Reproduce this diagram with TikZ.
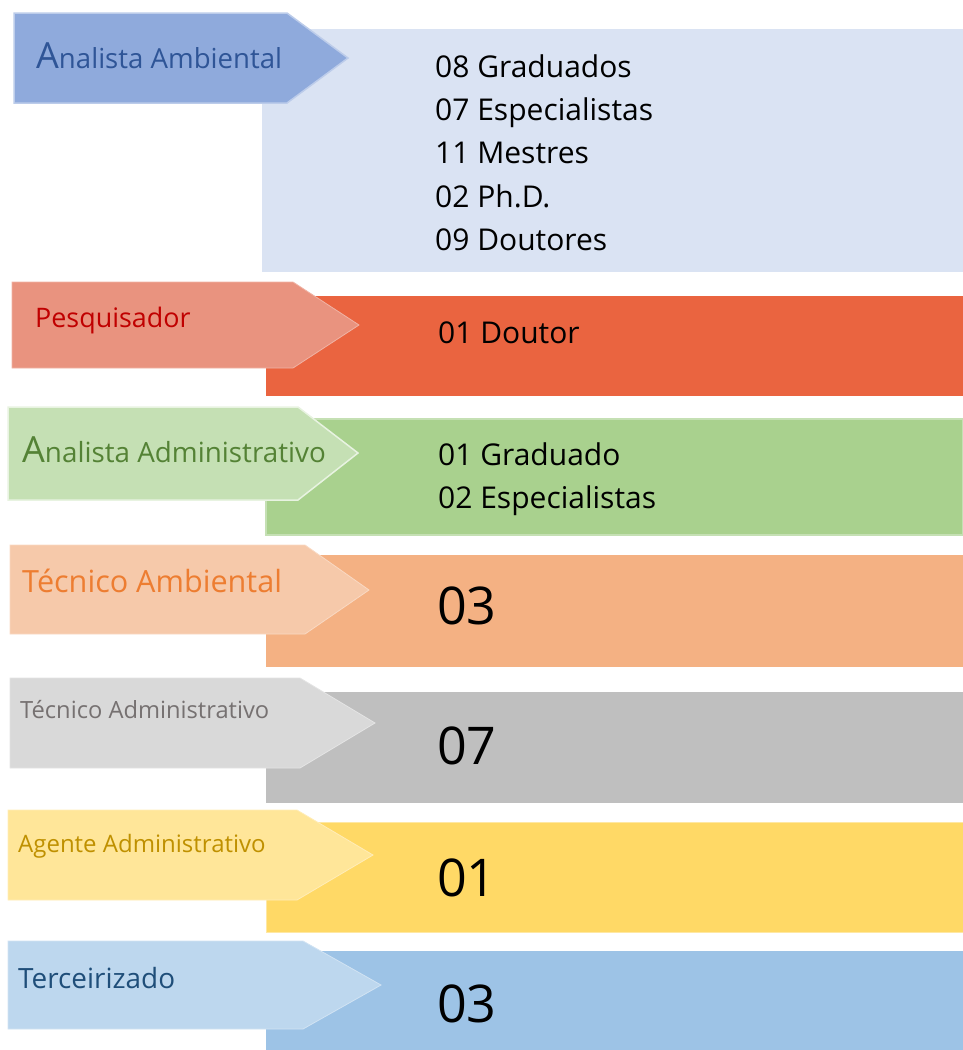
\documentclass[tikz,border=0pt]{standalone}
\usepackage{fontspec}
\setmainfont{Open Sans}
\usepackage{xcolor}

% fills for the seven rows: label arrow / value box / label text
\definecolor{azulA}{HTML}{8FAADC}
\definecolor{azulB}{HTML}{DAE3F3}
\definecolor{azulT}{HTML}{2F5597}
\definecolor{vermA}{HTML}{E9937F}
\definecolor{vermB}{HTML}{EA6440}
\definecolor{vermT}{HTML}{C00000}
\definecolor{verdeA}{HTML}{C5E0B4}
\definecolor{verdeB}{HTML}{A9D18E}
\definecolor{verdeT}{HTML}{548235}
\definecolor{larA}{HTML}{F6C9AA}
\definecolor{larB}{HTML}{F4B183}
\definecolor{larT}{HTML}{ED7D31}
\definecolor{cinzaA}{HTML}{D9D9D9}
\definecolor{cinzaB}{HTML}{BFBFBF}
\definecolor{cinzaT}{HTML}{767171}
\definecolor{amarA}{HTML}{FFE699}
\definecolor{amarB}{HTML}{FFD966}
\definecolor{amarT}{HTML}{BF9000}
\definecolor{celA}{HTML}{BDD7EE}
\definecolor{celB}{HTML}{9DC3E6}
\definecolor{celT}{HTML}{1F4E79}

\begin{document}
\begin{tikzpicture}[x=1pt,y=-1pt,
		rotulo/.style={anchor=base west,inner sep=0pt},
		linha/.style={anchor=base west,inner sep=0pt,font=\fontsize{30}{36}\selectfont},
		numero/.style={anchor=base west,inner sep=0pt,font=\fontsize{52}{60}\selectfont}]
			\useasboundingbox (0,0) rectangle (963,1050);

			% Analista Ambiental
			\fill[azulB] (262,29) rectangle (963,272);
			\filldraw[fill=azulA,draw=azulB!60!azulA,line width=1.5pt] (14,13) -- (287,13) -- (348,58) -- (287,103) -- (14,103) -- cycle;
			\node[rotulo,text=azulT,font=\fontsize{27.6}{30}\selectfont] (aamb) at (36,68) {{\fontsize{36}{30}\selectfont A}nalista Ambiental};
			\node[linha] (aamb1) at (435,77) {08 Graduados};
			\node[linha] (aamb2) at (435,120) {07 Especialistas};
			\node[linha] (aamb3) at (435,163) {11 Mestres};
			\node[linha] (aamb4) at (435,207) {02 Ph.D.};
			\node[linha] (aamb5) at (435,250) {09 Doutores};

			% Pesquisador
			\fill[vermB] (266,296) rectangle (963,396);
			\filldraw[fill=vermA,draw=vermA!70!white,line width=0.8pt] (12,282) -- (293,282) -- (359,325) -- (293,368) -- (12,368) -- cycle;
			\node[rotulo,text=vermT,font=\fontsize{26.9}{30}\selectfont] (pesq) at (35,327) {Pesquisador};
			\node[linha] (pesq1) at (438,343) {01 Doutor};

			% Analista Administrativo
			\filldraw[fill=verdeB,draw=verdeA,line width=1.5pt] (266,419) rectangle (963,535);
			\filldraw[fill=verdeA,draw=verdeA!40!white,line width=1.5pt] (8,407) -- (298,407) -- (358,453) -- (298,500) -- (8,500) -- cycle;
			\node[rotulo,text=verdeT,font=\fontsize{27.8}{30}\selectfont] (aadm) at (22,462) {{\fontsize{36}{30}\selectfont A}nalista Administrativo};
			\node[linha] (aadm1) at (438,465) {01 Graduado};
			\node[linha] (aadm2) at (438,508) {02 Especialistas};

			% Técnico Ambiental
			\fill[larB] (266,555) rectangle (963,667);
			\filldraw[fill=larA,draw=larA!70!white,line width=0.8pt] (10,545) -- (305,545) -- (369,590) -- (305,634) -- (10,634) -- cycle;
			\node[rotulo,text=larT,font=\fontsize{30.6}{34}\selectfont] (tamb) at (22,592) {Técnico Ambiental};
			\node[numero] (tamb1) at (437,624) {03};

			% Técnico Administrativo
			\fill[cinzaB] (266,692) rectangle (963,803);
			\filldraw[fill=cinzaA,draw=cinzaA!70!white,line width=0.8pt] (10,678) -- (300,678) -- (375,723) -- (300,768) -- (10,768) -- cycle;
			\node[rotulo,text=cinzaT,font=\fontsize{23.7}{28}\selectfont] (tadm) at (20,718) {Técnico Administrativo};
			\node[numero] (tadm1) at (437,764) {07};

			% Agente Administrativo
			\filldraw[fill=amarB,draw=amarB!60!white,line width=1pt] (266,822) rectangle (963,932);
			\filldraw[fill=amarA,draw=amarA!70!white,line width=0.8pt] (8,810) -- (297,810) -- (373,855) -- (297,900) -- (8,900) -- cycle;
			\node[rotulo,text=amarT,font=\fontsize{24}{28}\selectfont] (agad) at (18,852) {Agente Administrativo};
			\node[numero] (agad1) at (437,896) {01};

			% Terceirizado
			\fill[celB] (266,951) rectangle (963,1050);
			\filldraw[fill=celA,draw=celA!70!white,line width=0.8pt] (8,941) -- (303,941) -- (381,985) -- (303,1029) -- (8,1029) -- cycle;
			\node[rotulo,text=celT,font=\fontsize{27.9}{30}\selectfont] (terc) at (18,988) {Terceirizado};
			\node[numero] (terc1) at (437,1022) {03};

		\end{tikzpicture}
\end{document}
